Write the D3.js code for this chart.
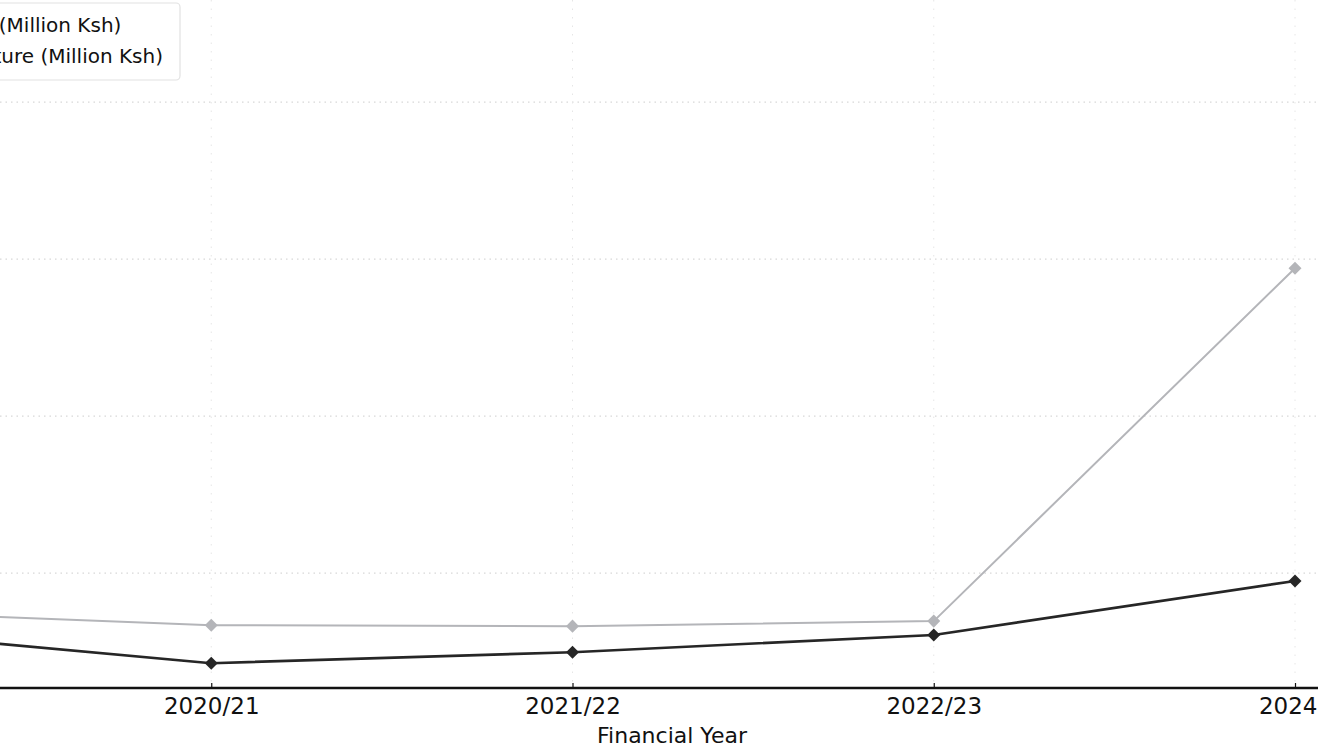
<!DOCTYPE html>
<html>
<head>
<meta charset="utf-8">
<script src="https://cdn.jsdelivr.net/npm/d3@7"></script>
<style>
  html, body { margin: 0; padding: 0; background: #fff; overflow: hidden; }
  svg { display: block; font-family: "DejaVu Sans", sans-serif; }
</style>
</head>
<body>
<svg class="chart"></svg>
<script>
const width = 1332;
const height = 751;

// data (Million Ksh)
const years = ["2019/20", "2020/21", "2021/22", "2022/23", "2024"];
const funding = [379, 334, 331, 347, 1471];
const expenditure = [318, 213, 248, 303, 475];
const gridValues = [500, 1000, 1500, 2000];
const seriesNames = ["Funding (Million Ksh)", "Expenditure (Million Ksh)"];

const plotBottom = 688;
const plotRight = 1318;

const svg = d3.select('.chart')
  .attr('width', width).attr('height', height);

const x = d3.scalePoint()
  .domain(years)
  .range([-150, 1295]);

const y = d3.scaleLinear()
  .domain([134, 2325])
  .range([plotBottom, 0]);

// grid
const grid = svg.append('g').attr('class', 'grid');
grid.selectAll('.hgrid')
  .data(gridValues)
  .enter()
  .append('line')
  .attr('class', 'hgrid')
  .attr('x1', 0).attr('x2', plotRight)
  .attr('y1', d => y(d)).attr('y2', d => y(d))
  .style('stroke', '#d8d8d8')
  .style('stroke-width', 1.2)
  .style('stroke-dasharray', '1.5,4');
grid.selectAll('.vgrid')
  .data(years)
  .enter()
  .append('line')
  .attr('class', 'vgrid')
  .attr('x1', d => x(d)).attr('x2', d => x(d))
  .attr('y1', 0).attr('y2', plotBottom)
  .style('stroke', '#e6e6e6')
  .style('stroke-width', 1)
  .style('stroke-dasharray', '1.5,7');

// lines
const series = [
  { name: seriesNames[0], values: funding, color: '#b4b5b9', lw: 2 },
  { name: seriesNames[1], values: expenditure, color: '#262626', lw: 2.6 }
];

const line = d3.line()
  .x((d, i) => x(years[i]))
  .y(d => y(d));

series.forEach(s => {
  svg.append('path')
    .datum(s.values)
    .attr('d', line)
    .style('fill', 'none')
    .style('stroke', s.color)
    .style('stroke-width', s.lw);
  svg.selectAll(null)
    .data(s.values)
    .enter()
    .append('path')
    .attr('d', d3.symbol().type(d3.symbolSquare).size(85))
    .attr('transform', (d, i) => `translate(${x(years[i])},${y(d)}) rotate(45)`)
    .style('fill', s.color);
});

// x axis
const xAxis = svg.append('g')
  .attr('transform', `translate(0,${plotBottom})`)
  .call(d3.axisBottom(x).tickSizeInner(-5).tickSizeOuter(0).tickPadding(10));
xAxis.select('.domain').remove();
xAxis.append('line')
  .attr('x1', 0).attr('x2', plotRight)
  .style('stroke', '#111')
  .style('stroke-width', 2.6);
xAxis.selectAll('.tick line').style('stroke', '#111').style('stroke-width', 1.2);
xAxis.selectAll('.tick text')
  .style('font-size', '23px')
  .style('fill', '#111')
  .attr('font-family', '"DejaVu Sans", sans-serif');
// last label sits flush with the right edge
xAxis.selectAll('.tick text')
  .filter(d => d === years[years.length - 1])
  .attr('text-anchor', 'end')
  .attr('x', 22);

svg.append('text')
  .attr('x', 672)
  .attr('y', 743)
  .attr('text-anchor', 'middle')
  .style('font-size', '22px')
  .style('fill', '#111')
  .text('Financial Year');

// legend (mostly cut off on the left)
const legend = svg.append('g').attr('class', 'legend');
const box = legend.append('rect')
  .attr('y', 3).attr('height', 77)
  .attr('rx', 4)
  .style('fill', '#fff')
  .style('stroke', '#e2e2e2')
  .style('stroke-width', 1.2);
const labels = legend.selectAll('text')
  .data(series)
  .enter()
  .append('text')
  .attr('y', (d, i) => 32 + i * 31)
  .style('font-size', '20px')
  .style('fill', '#111')
  .text(d => d.name);
const longest = d3.max(labels.nodes(), n => n.getComputedTextLength());
const textStart = 163 - longest;
labels.attr('x', textStart);
legend.selectAll('.key')
  .data(series)
  .enter()
  .append('line')
  .attr('class', 'key')
  .attr('x1', textStart - 50).attr('x2', textStart - 12)
  .attr('y1', (d, i) => 25 + i * 31).attr('y2', (d, i) => 25 + i * 31)
  .style('stroke', d => d.color)
  .style('stroke-width', d => d.lw);
box.attr('x', textStart - 60).attr('width', 180 - (textStart - 60));
</script>
</body>
</html>
